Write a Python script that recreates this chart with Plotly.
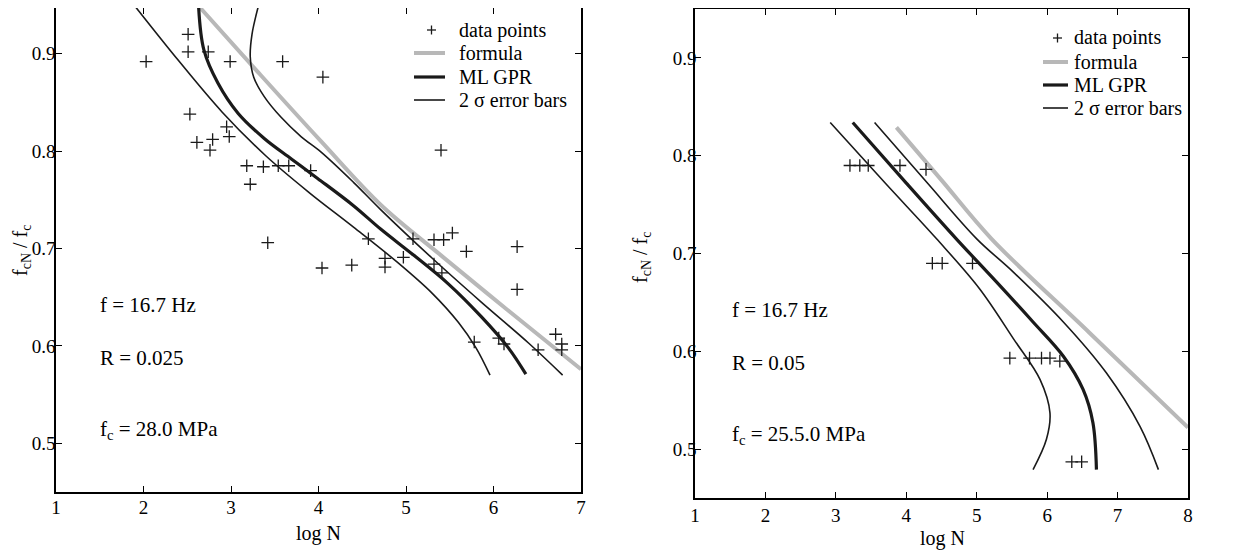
import plotly.graph_objects as go

# ---------------- data ----------------
# left panel: f = 16.7 Hz, R = 0.025, fc = 28.0 MPa
left_pts_x = [2.03, 2.51, 2.51, 2.74, 2.99, 3.59, 4.05, 2.53, 2.95, 2.98, 2.61, 2.79, 2.76,
              3.18, 3.37, 3.54, 3.66, 3.91, 3.22, 3.42, 4.04, 4.38, 4.76, 4.76, 4.57, 4.97,
              5.08, 5.32, 5.43, 5.53, 5.69, 6.27, 5.40, 5.32, 5.41, 6.27, 5.78, 6.06, 6.12,
              6.51, 6.71, 6.78, 6.78]
left_pts_y = [0.892, 0.920, 0.902, 0.902, 0.892, 0.892, 0.876, 0.838, 0.825, 0.815, 0.809, 0.812, 0.801,
              0.785, 0.784, 0.785, 0.785, 0.780, 0.766, 0.706, 0.680, 0.683, 0.690, 0.681, 0.710, 0.691,
              0.710, 0.709, 0.709, 0.716, 0.697, 0.702, 0.801, 0.684, 0.675, 0.658, 0.604, 0.608, 0.602,
              0.596, 0.612, 0.602, 0.596]

left_formula_x = [2.64, 3.30, 4.03, 4.71, 5.40, 6.20, 7.00]
left_formula_y = [0.948, 0.882, 0.810, 0.745, 0.693, 0.634, 0.576]

left_gpr_x = [2.63, 2.69, 2.85, 3.08, 3.38, 3.69, 3.99, 4.40, 4.71, 5.09, 5.48, 5.86, 6.17, 6.37]
left_gpr_y = [0.948, 0.904, 0.870, 0.839, 0.813, 0.792, 0.772, 0.744, 0.720, 0.693, 0.664, 0.630, 0.598, 0.571]

left_lo_x = [1.91, 2.40, 2.90, 3.40, 3.90, 4.40, 4.90, 5.30, 5.60, 5.80, 5.96]
left_lo_y = [0.948, 0.893, 0.840, 0.795, 0.757, 0.722, 0.686, 0.654, 0.624, 0.598, 0.570]

left_hi_x = [3.31, 3.24, 3.22, 3.26, 3.38, 3.57, 3.80, 4.03, 4.40, 4.71, 5.30, 5.86, 6.40, 6.79]
left_hi_y = [0.948, 0.920, 0.897, 0.876, 0.856, 0.835, 0.815, 0.799, 0.768, 0.740, 0.690, 0.645, 0.603, 0.570]

# right panel: f = 16.7 Hz, R = 0.05, fc = 25.5 MPa
right_pts_x = [3.20, 3.34, 3.46, 3.91, 4.28, 4.37, 4.51, 4.94, 5.47, 5.75, 5.92, 6.04, 6.18, 6.35, 6.49]
right_pts_y = [0.790, 0.790, 0.790, 0.790, 0.786, 0.690, 0.690, 0.690, 0.593, 0.593, 0.593, 0.593, 0.590, 0.487, 0.487]

right_formula_x = [3.86, 4.50, 5.21, 6.60, 8.00]
right_formula_y = [0.829, 0.775, 0.715, 0.619, 0.522]

right_gpr_x = [3.24, 4.00, 4.71, 5.28, 5.80, 6.23, 6.51, 6.65, 6.70]
right_gpr_y = [0.834, 0.772, 0.715, 0.671, 0.630, 0.595, 0.561, 0.527, 0.479]

right_lo_x = [2.92, 3.70, 4.43, 5.04, 5.52, 5.90, 6.04, 5.99, 5.80]
right_lo_y = [0.834, 0.772, 0.715, 0.664, 0.613, 0.571, 0.537, 0.510, 0.479]

right_hi_x = [3.55, 4.30, 5.00, 5.52, 6.23, 6.84, 7.32, 7.58]
right_hi_y = [0.834, 0.772, 0.715, 0.681, 0.630, 0.578, 0.523, 0.479]

left_xticks = [1, 2, 3, 4, 5, 6, 7]
right_xticks = [1, 2, 3, 4, 5, 6, 7, 8]
yticks = [0.5, 0.6, 0.7, 0.8, 0.9]

legend_labels = ["data points", "formula", "ML GPR", "2 σ error bars"]
left_notes = ["f = 16.7 Hz", "R = 0.025", "f<sub>c</sub> = 28.0 MPa"]
right_notes = ["f = 16.7 Hz", "R = 0.05", "f<sub>c</sub> = 25.5.0 MPa"]

# ---------------- styling ----------------
VW, VH = 1234, 551          # browser window
OFF = 8                     # page body margin
W, H = VW - OFF, VH - OFF   # figure size that fits the window
FONT = "Liberation Serif"
INK = "#1a1a1a"
GREY = "#b8b8b8"
THICK, THIN, FORM_W = 3.2, 1.6, 4


def px(x):
    """window pixel x -> paper fraction"""
    return min(1.0, max(0.0, (x - OFF) / W))


def py(y):
    """window pixel y -> paper fraction"""
    return min(1.0, max(0.0, 1 - (y - OFF) / H))


fig = go.Figure()


def add_panel(xa, ya, pts_x, pts_y, fx, fy, gx, gy, lx, ly, hx, hy):
    common = dict(xaxis=xa, yaxis=ya, showlegend=False)
    fig.add_trace(go.Scatter(x=fx, y=fy, mode="lines", name="formula",
                             line=dict(color=GREY, width=FORM_W, shape="spline"), **common))
    fig.add_trace(go.Scatter(x=gx, y=gy, mode="lines", name="ML GPR",
                             line=dict(color=INK, width=THICK, shape="spline"), **common))
    fig.add_trace(go.Scatter(x=lx, y=ly, mode="lines", name="2 σ error bars",
                             line=dict(color=INK, width=THIN, shape="spline"), **common))
    fig.add_trace(go.Scatter(x=hx, y=hy, mode="lines", name="2 σ error bars",
                             line=dict(color=INK, width=THIN, shape="spline"), **common))
    fig.add_trace(go.Scatter(x=pts_x, y=pts_y, mode="markers", name="data points",
                             marker=dict(symbol="cross-thin", size=9, color=INK,
                                         line=dict(width=1.3, color=INK)), **common))


add_panel("x", "y", left_pts_x, left_pts_y, left_formula_x, left_formula_y,
          left_gpr_x, left_gpr_y, left_lo_x, left_lo_y, left_hi_x, left_hi_y)
add_panel("x2", "y2", right_pts_x, right_pts_y, right_formula_x, right_formula_y,
          right_gpr_x, right_gpr_y, right_lo_x, right_lo_y, right_hi_x, right_hi_y)

axis_common = dict(showline=True, linecolor="black", linewidth=1.5, mirror="ticks",
                   ticks="inside", ticklen=6, tickwidth=1.2, tickcolor="black",
                   showgrid=False, zeroline=False, automargin=False,
                   tickfont=dict(family=FONT, size=19, color="black"))

fig.update_layout(
    template="none",
    width=W, height=H,
    margin=dict(l=0, r=0, t=0, b=0, pad=0),
    paper_bgcolor="white", plot_bgcolor="white",
    font=dict(family=FONT, size=20, color="black"),
    showlegend=False,
    xaxis=dict(domain=[px(56), px(581)], range=[1, 7], tickvals=left_xticks,
               anchor="y", ticklabelstandoff=-3, **axis_common),
    yaxis=dict(domain=[py(492), py(8)], range=[0.45, 0.947], tickvals=yticks,
               ticktext=[f"{v:.1f}" for v in yticks], anchor="x",
               ticklabelstandoff=-5, **axis_common),
    xaxis2=dict(domain=[px(695), px(1188)], range=[1, 8], tickvals=right_xticks,
                anchor="y2", ticklabelstandoff=-1, **axis_common),
    yaxis2=dict(domain=[py(498), py(9)], range=[0.45, 0.95], tickvals=yticks,
                ticktext=[f"{v:.1f}" for v in yticks], anchor="x2",
                ticklabelstandoff=-7, **axis_common),
)

ann = []
shapes = []


def note(text, x, y, size=20, xanchor="left", angle=0):
    ann.append(dict(text=text, x=px(x), y=py(y), xref="paper", yref="paper",
                    xanchor=xanchor, yanchor="middle", showarrow=False,
                    textangle=angle, font=dict(size=size)))


# axis titles
note("log N", 318, 533, xanchor="center")
note("log N", 942, 538, xanchor="center")
note("f<sub>cN</sub> / f<sub>c</sub>", 21, 251, xanchor="center", angle=-90)
note("f<sub>cN</sub> / f<sub>c</sub>", 642, 258, xanchor="center", angle=-90)
# panel notes
for txt, yy in zip(left_notes, [305, 358, 430]):
    note(txt, 98, yy, size=21)
for txt, yy in zip(right_notes, [310, 363, 435]):
    note(txt, 730, yy, size=21)


# legends (keys + labels placed in paper space)
def add_legend(text_x, key_x0, key_x1, rows):
    plus_x = (key_x0 + key_x1) / 2 + 2
    for label, yy in zip(legend_labels, rows):
        note(label, text_x, yy, size=20)
    shapes.append(dict(type="line", xref="paper", yref="paper", x0=px(plus_x - 4.5), x1=px(plus_x + 4.5),
                       y0=py(rows[0]), y1=py(rows[0]), line=dict(color=INK, width=1.3)))
    shapes.append(dict(type="line", xref="paper", yref="paper", x0=px(plus_x), x1=px(plus_x),
                       y0=py(rows[0] - 4.5), y1=py(rows[0] + 4.5), line=dict(color=INK, width=1.3)))
    for yy, col, w in zip(rows[1:], [GREY, INK, INK], [FORM_W, THICK, THIN]):
        shapes.append(dict(type="line", xref="paper", yref="paper", x0=px(key_x0), x1=px(key_x1),
                           y0=py(yy), y1=py(yy), line=dict(color=col, width=w)))


add_legend(457, 414, 445, [30, 53, 77, 100])
add_legend(1072, 1043, 1068, [38, 62, 85, 108])

fig.update_layout(annotations=ann, shapes=shapes)

fig.write_html("out.html")
